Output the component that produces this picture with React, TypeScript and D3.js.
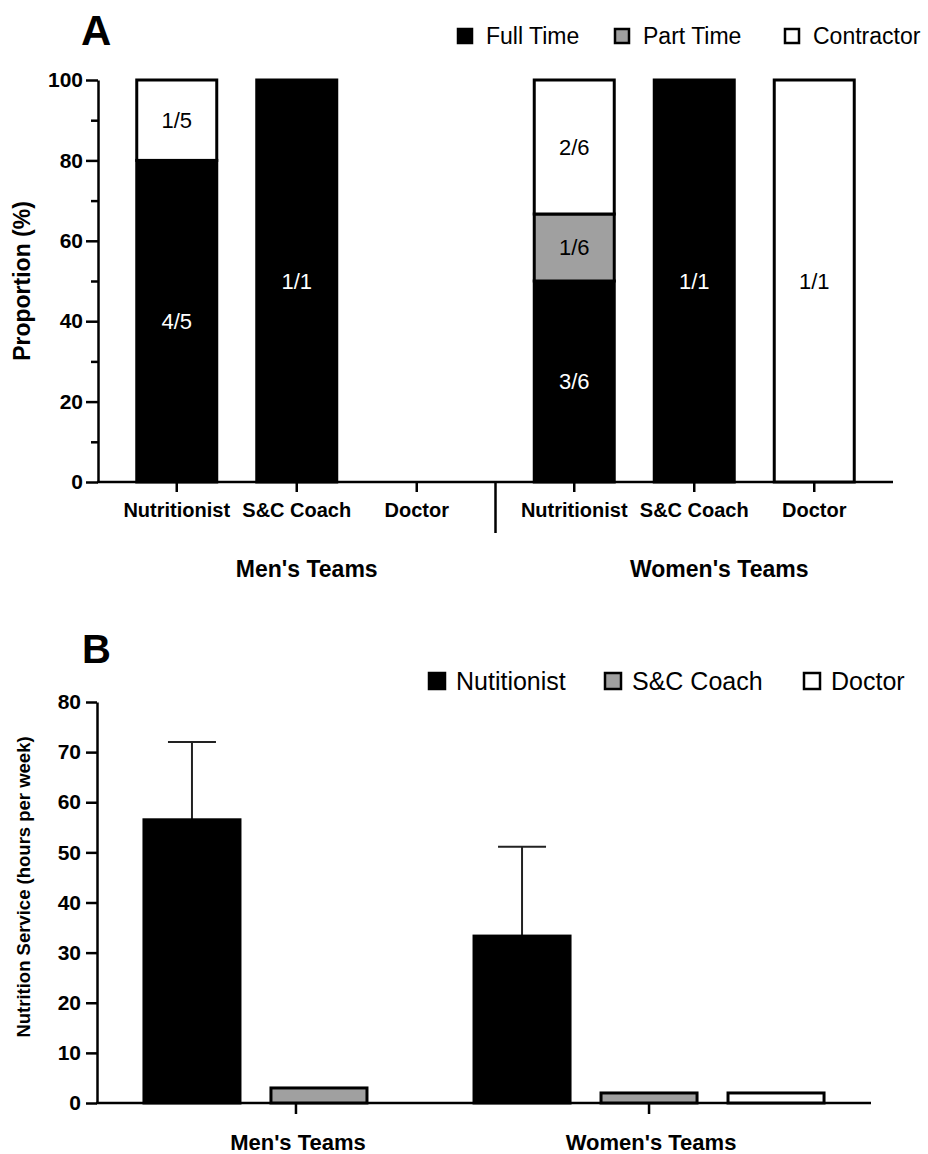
import React, { useEffect, useRef } from "react";
import * as d3 from "d3";

// shared categories
const groups = ["Men's Teams", "Women's Teams"];
const roles = ["Nutritionist", "S&C Coach", "Doctor"];

// panel A: staff counts per role as [full time, part time, contractor]
const employmentTypes = ["Full Time", "Part Time", "Contractor"];
const menCounts = [[4, 0, 1], [1, 0, 0], [0, 0, 0]];
const womenCounts = [[3, 1, 2], [1, 0, 0], [0, 0, 1]];
const yTicksA = [0, 20, 40, 60, 80, 100];
const yMinorA = [10, 30, 50, 70, 90];

// panel B: hours per week (mean, SD)
const serviceTypes = ["Nutitionist", "S&C Coach", "Doctor"];
const menHours = [56.5, 3, null];
const womenHours = [33.3, 2, 2];
const menHoursSD = [15.5, 0, null];
const womenHoursSD = [17.8, 0, 0];
const yTicksB = [0, 10, 20, 30, 40, 50, 60, 70, 80];

const fills = ["#000000", "#a0a0a0", "#ffffff"];
const FONT = "'Liberation Sans', Arial, Helvetica, sans-serif";

const App = () => {
  const svgRef = useRef(null);

  useEffect(() => {
    document.body.style.margin = "0";
    const svg = d3.select(svgRef.current);
    svg.selectAll("*").remove();
    svg.attr("font-family", FONT);

    // ---------- Panel A ----------
    const yA = d3.scaleLinear().domain([0, 100]).range([482, 80]);
    const gA = d3.scaleBand().domain(groups).range([98, 893]);
    const rA = d3.scaleBand().domain(roles).range([-180, 180]).paddingInner(1 / 3).paddingOuter(1 / 6);

    svg.append("text").attr("x", 81).attr("y", 45)
      .attr("font-size", 42).attr("font-weight", "bold").text("A");

    const axA = svg.append("g").attr("transform", "translate(98,0)")
      .call(d3.axisLeft(yA).tickValues(yTicksA).tickSize(12).tickSizeOuter(0).tickPadding(3));
    axA.attr("font-size", 21).attr("font-family", FONT).attr("font-weight", "bold");
    axA.selectAll("line").attr("stroke-width", 2.5);
    axA.select(".domain").attr("stroke-width", 2.5);
    svg.append("g").attr("transform", "translate(98,0)")
      .call(d3.axisLeft(yA).tickValues(yMinorA).tickSize(7).tickFormat(() => ""))
      .call(g => g.select(".domain").remove())
      .selectAll("line").attr("stroke-width", 2.5);

    svg.append("text").attr("transform", "rotate(-90)")
      .attr("x", -281).attr("y", 30).attr("text-anchor", "middle")
      .attr("font-size", 23).attr("font-weight", "bold").text("Proportion (%)");

    // x axis line + group separator
    svg.append("line").attr("x1", 97).attr("x2", 893).attr("y1", yA(0)).attr("y2", yA(0))
      .attr("stroke", "#000").attr("stroke-width", 2.5);
    svg.append("line").attr("x1", gA(groups[1])).attr("x2", gA(groups[1]))
      .attr("y1", yA(0)).attr("y2", 533).attr("stroke", "#000").attr("stroke-width", 2.5);

    const groupNudgeA = [10, 25];
    [menCounts, womenCounts].forEach((counts, gi) => {
      const cx = gA(groups[gi]) + gA.bandwidth() / 2;
      const rows = counts.map(c => {
        const total = d3.sum(c);
        const row = { total };
        employmentTypes.forEach((k, i) => { row[k] = total ? (c[i] / total) * 100 : 0; row[k + "_n"] = c[i]; });
        return row;
      });
      const series = d3.stack().keys(employmentTypes)(rows);
      const grp = svg.append("g");

      series.forEach((s, si) => {
        s.forEach((d, ri) => {
          if (d[1] - d[0] <= 0) return;
          const x = cx + rA(roles[ri]);
          grp.append("rect")
            .attr("x", x).attr("width", rA.bandwidth())
            .attr("y", yA(d[1])).attr("height", yA(d[0]) - yA(d[1]))
            .attr("fill", fills[si]).attr("stroke", "#000").attr("stroke-width", 3);
          grp.append("text")
            .attr("x", x + rA.bandwidth() / 2).attr("y", yA((d[0] + d[1]) / 2))
            .attr("dy", "0.35em").attr("text-anchor", "middle")
            .attr("font-size", 22).attr("fill", si === 0 ? "#fff" : "#000")
            .text(`${rows[ri][employmentTypes[si] + "_n"]}/${rows[ri].total}`);
        });
      });

      const ticks = svg.append("g").attr("transform", `translate(${cx},${yA(0)})`)
        .call(d3.axisBottom(rA).tickSize(10).tickPadding(11));
      ticks.select(".domain").remove();
      ticks.attr("font-size", 20).attr("font-family", FONT).attr("font-weight", "bold");
      ticks.selectAll("line").attr("stroke-width", 2.5);

      svg.append("text").attr("x", cx + groupNudgeA[gi]).attr("y", 577)
        .attr("text-anchor", "middle").attr("font-size", 23).attr("font-weight", "bold")
        .text(groups[gi]);
    });

    // legend A
    const legendXA = [458, 615, 785];
    employmentTypes.forEach((k, i) => {
      svg.append("rect").attr("x", legendXA[i]).attr("y", 29).attr("width", 14).attr("height", 14)
        .attr("fill", fills[i]).attr("stroke", "#000").attr("stroke-width", 2.5);
      svg.append("text").attr("x", legendXA[i] + 28).attr("y", 44)
        .attr("font-size", 23).text(k);
    });

    // ---------- Panel B ----------
    const yB = d3.scaleLinear().domain([0, 80]).range([1103, 702]);
    const gB = d3.scaleBand().domain(groups).range([97, 871]).paddingOuter(0.1725);
    const rB = d3.scaleBand().domain(roles).range([-190.5, 190.5]).paddingInner(0.244).paddingOuter(0.122);

    svg.append("text").attr("x", 82).attr("y", 663)
      .attr("font-size", 40).attr("font-weight", "bold").text("B");

    const axB = svg.append("g").attr("transform", "translate(97,0)")
      .call(d3.axisLeft(yB).tickValues(yTicksB).tickSize(11).tickSizeOuter(0).tickPadding(5));
    axB.attr("font-size", 21).attr("font-family", FONT).attr("font-weight", "bold");
    axB.selectAll("line").attr("stroke-width", 2.5);
    axB.select(".domain").attr("stroke-width", 2.5);

    svg.append("text").attr("transform", "rotate(-90)")
      .attr("x", -887).attr("y", 30).attr("text-anchor", "middle")
      .attr("font-size", 18.5).attr("font-weight", "bold").text("Nutrition Service (hours per week)");

    svg.append("line").attr("x1", 96).attr("x2", 871).attr("y1", yB(0)).attr("y2", yB(0))
      .attr("stroke", "#000").attr("stroke-width", 2.5);

    const tickNudgeB = [-23, 0];
    [[menHours, menHoursSD], [womenHours, womenHoursSD]].forEach(([vals, sds], gi) => {
      const cx = gB(groups[gi]) + gB.bandwidth() / 2;
      vals.forEach((v, ri) => {
        if (v == null) return;
        const x = cx + rB(roles[ri]);
        const mid = x + rB.bandwidth() / 2;
        const sd = sds[ri];
        if (sd > 0) {
          svg.append("line").attr("x1", mid).attr("x2", mid).attr("y1", yB(v)).attr("y2", yB(v + sd))
            .attr("stroke", "#222").attr("stroke-width", 2);
          svg.append("line").attr("x1", mid - 24).attr("x2", mid + 24).attr("y1", yB(v + sd)).attr("y2", yB(v + sd))
            .attr("stroke", "#222").attr("stroke-width", 2);
        }
        svg.append("rect")
          .attr("x", x).attr("width", rB.bandwidth())
          .attr("y", yB(v)).attr("height", yB(0) - yB(v))
          .attr("fill", fills[ri]).attr("stroke", "#000").attr("stroke-width", 3);
      });
      const tx = cx + tickNudgeB[gi];
      svg.append("line").attr("x1", tx).attr("x2", tx).attr("y1", yB(0)).attr("y2", yB(0) + 11)
        .attr("stroke", "#000").attr("stroke-width", 2.5);
      svg.append("text").attr("x", tx + 2).attr("y", 1150)
        .attr("text-anchor", "middle").attr("font-size", 22).attr("font-weight", "bold")
        .text(groups[gi]);
    });

    // legend B
    const legendXB = [429, 605, 804];
    serviceTypes.forEach((k, i) => {
      svg.append("rect").attr("x", legendXB[i]).attr("y", 673).attr("width", 16).attr("height", 16)
        .attr("fill", fills[i]).attr("stroke", "#000").attr("stroke-width", 2.5);
      svg.append("text").attr("x", legendXB[i] + 27).attr("y", 690)
        .attr("font-size", 25).text(k);
    });
  }, []);

  return <svg ref={svgRef} width={928} height={1154} style={{ display: "block", background: "#fff" }}></svg>;
};

export default App;
